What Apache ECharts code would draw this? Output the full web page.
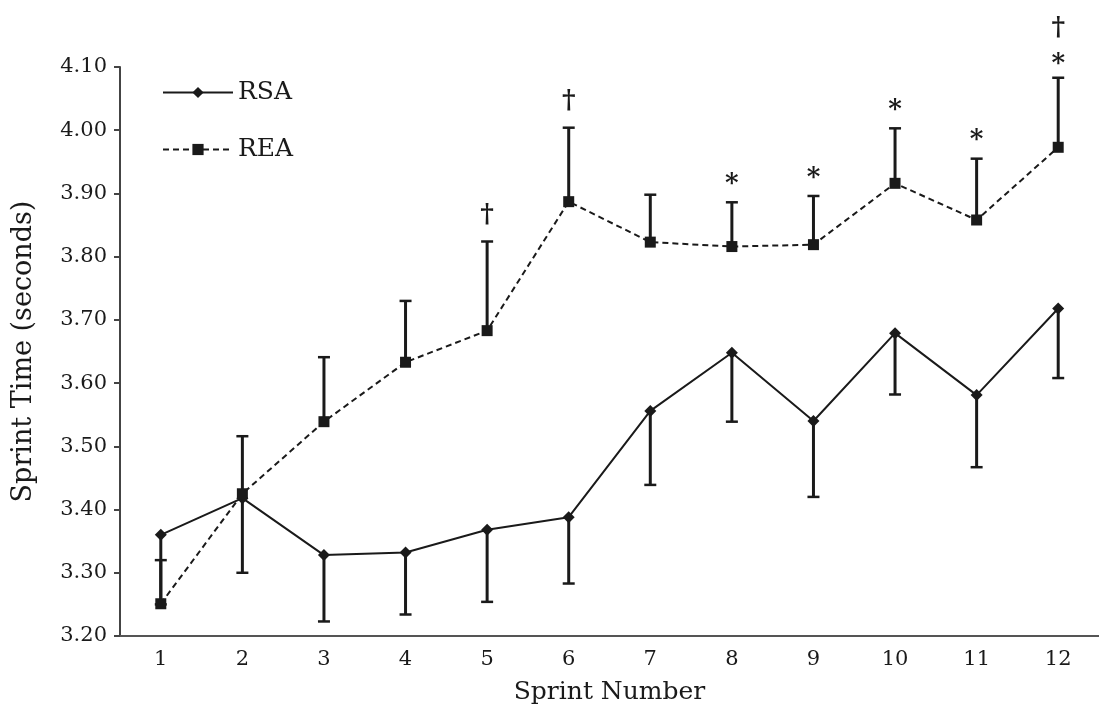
<!DOCTYPE html>
<html>
<head>
<meta charset="utf-8">
<script src="https://cdn.jsdelivr.net/npm/echarts@6/dist/echarts.min.js"></script>
<style>
  html, body { margin: 0; padding: 0; background: #fff; }
  #chart { width: 1099px; height: 713px; }
</style>
</head>
<body>
<div id="chart"></div>
<script>
// sprint numbers on the x axis
const sprints = ['1', '2', '3', '4', '5', '6', '7', '8', '9', '10', '11', '12'];
// RSA group: mean and lower end of the error bar
const rsaMean = [3.360, 3.418, 3.328, 3.332, 3.368, 3.388, 3.556, 3.648, 3.540, 3.679, 3.581, 3.718];
const rsaLow = [3.250, 3.300, 3.223, 3.234, 3.254, 3.283, 3.439, 3.539, 3.420, 3.582, 3.467, 3.608];
// REA group: mean and upper end of the error bar
const reaMean = [3.251, 3.425, 3.539, 3.633, 3.683, 3.887, 3.823, 3.816, 3.819, 3.916, 3.858, 3.973];
const reaHigh = [3.320, 3.516, 3.641, 3.730, 3.824, 4.004, 3.898, 3.886, 3.896, 4.003, 3.955, 4.083];
// significance marks above the REA bars
const reaMarks = ['', '', '', '', '†', '†', '', '*', '*', '*', '*', '†\n*'];

const font = 'DejaVu Serif';
const ink = '#1a1a1a';

// 误差线 + 标记
function errorBar(params, api) {
  const p0 = api.coord([api.value(0), api.value(1)]);
  const p1 = api.coord([api.value(0), api.value(2)]);
  const mark = reaMarks[params.dataIndex];
  const children = [
    { type: 'line', shape: { x1: p0[0], y1: p0[1], x2: p1[0], y2: p1[1] },
      style: { stroke: ink, lineWidth: 3 } },
    { type: 'line', shape: { x1: p1[0] - 6, y1: p1[1], x2: p1[0] + 6, y2: p1[1] },
      style: { stroke: ink, lineWidth: 2.5 } }
  ];
  if (api.value(3) === 1 && mark) {
    const parts = mark.split('\n').reverse();
    parts.forEach((ch, k) => {
      // 单个符号和叠放符号的间距不同
      let off = ch === '†' ? 13 : 5;
      if (parts.length > 1) off = k === 0 ? 0 : 36;
      children.push({
        type: 'text',
        style: { text: ch, x: p1[0], y: p1[1] - off, align: 'center', verticalAlign: 'bottom',
          font: 'bold 26px ' + font, fill: ink }
      });
    });
  }
  return { type: 'group', children: children };
}

let myChart = echarts.init(document.getElementById('chart'));
let option = {
  animation: false,
  grid: { left: 120, top: 67, width: 991, bottom: 77 },
  legend: {
    orient: 'vertical', left: 157, top: 75, itemWidth: 70, itemHeight: 14, itemGap: 32,
    textStyle: { fontFamily: font, fontSize: 25, color: ink },
    data: ['RSA', 'REA']
  },
  xAxis: {
    type: 'category',
    data: sprints,
    name: 'Sprint Number',
    nameLocation: 'middle',
    nameGap: 44,
    nameTextStyle: { fontFamily: font, fontSize: 25, color: ink },
    axisLine: { lineStyle: { color: '#555', width: 2 } },
    axisTick: { show: false },
    axisLabel: { fontFamily: font, fontSize: 21, color: ink, margin: 13 }
  },
  yAxis: {
    type: 'value',
    min: 3.2, max: 4.1, interval: 0.1,
    name: 'Sprint Time (seconds)',
    nameLocation: 'middle',
    nameGap: 83,
    nameTextStyle: { fontFamily: font, fontSize: 27, color: ink },
    splitLine: { show: false },
    axisLine: { show: true, lineStyle: { color: '#444', width: 2 } },
    axisTick: { show: true, length: 6, lineStyle: { color: '#444', width: 2 } },
    axisLabel: { fontFamily: font, fontSize: 21, color: ink, margin: 13,
      formatter: v => v.toFixed(2) }
  },
  series: [
    {
      type: 'custom', name: 'rsaErr', renderItem: errorBar, z: 1,
      data: sprints.map((s, i) => [i, rsaMean[i], rsaLow[i], 0]),
      encode: { x: 0, y: [1, 2] }
    },
    {
      type: 'custom', name: 'reaErr', renderItem: errorBar, z: 1,
      data: sprints.map((s, i) => [i, reaMean[i], reaHigh[i], 1]),
      encode: { x: 0, y: [1, 2] }
    },
    {
      name: 'RSA', type: 'line', data: rsaMean, z: 3,
      symbol: 'diamond', symbolSize: 12,
      lineStyle: { color: ink, width: 2 },
      itemStyle: { color: ink }
    },
    {
      name: 'REA', type: 'line', data: reaMean, z: 4,
      symbol: 'rect', symbolSize: 11,
      lineStyle: { color: ink, width: 2, type: [6, 4] },
      itemStyle: { color: ink }
    }
  ]
};
myChart.setOption(option);
</script>
</body>
</html>
